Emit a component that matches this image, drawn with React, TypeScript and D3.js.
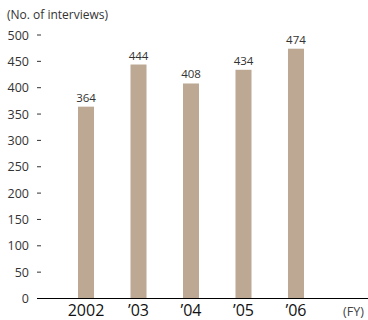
import React from "react";
import * as d3 from "d3";

const categories = ["2002", "\u201903", "\u201904", "\u201905", "\u201906"];
const values = [364, 444, 408, 434, 474];
const yTicks = [0, 50, 100, 150, 200, 250, 300, 350, 400, 450, 500];

export default function App() {
  const W = 368, H = 320;
  const y = d3.scaleLinear().domain([0, 500]).range([298.5, 35]);
  const x = d3.scaleBand<string>().domain(categories).range([60, 322]).paddingInner(0.695).paddingOuter(0.343);
  const font = "'Open Sans', 'Noto Sans', sans-serif";
  return (
    <svg width={W} height={H} style={{ position: "absolute", left: 0, top: 0, fontFamily: font }}>
      <text x={7} y={19} fontSize={12} fill="#333">(No. of interviews)</text>
      {yTicks.map((t) => (
        <g key={t}>
          <text x={29} y={y(t) + 4.5} fontSize={12.5} fill="#333" textAnchor="end">{t}</text>
          {t > 0 && <line x1={37} x2={41} y1={y(t)} y2={y(t)} stroke="#333" strokeWidth={1} />}
        </g>
      ))}
      {values.map((v, i) => (
        <g key={i}>
          <rect x={x(categories[i])} y={y(v)} width={x.bandwidth()} height={y(0) - y(v)} fill="#bca893" />
          <text x={(x(categories[i]) as number) + x.bandwidth() / 2} y={y(v) - 5} fontSize={11.5} fill="#333" textAnchor="middle">{v}</text>
        </g>
      ))}
      <line x1={37} x2={368} y1={y(0)} y2={y(0)} stroke="#000" strokeWidth={1.2} />
      {categories.map((c) => (
        <text key={c} x={(x(c) as number) + x.bandwidth() / 2} y={315.5} fontSize={16} fontWeight={500} fill="#111" textAnchor="middle">{c}</text>
      ))}
      <text x={343} y={315.5} fontSize={12.5} fill="#444">(FY)</text>
    </svg>
  );
}
